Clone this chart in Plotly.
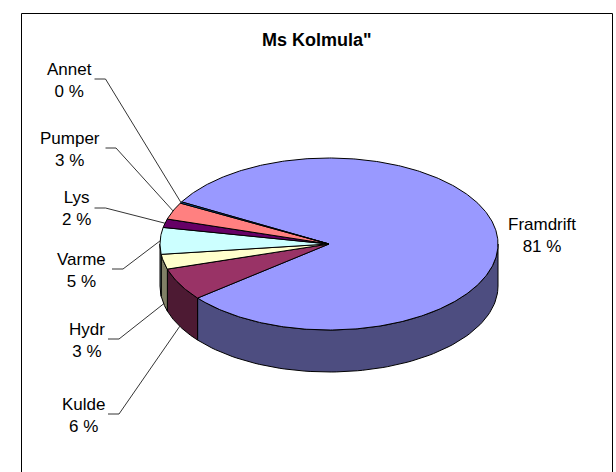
import numpy as np
import plotly.graph_objects as go

# ---- data ----
labels = ["Framdrift", "Kulde", "Hydr", "Varme", "Lys", "Pumper", "Annet"]
values = [81.0, 6.1, 2.8, 5.0, 1.6, 3.2, 0.25]
title_text = "Ms Kolmula\""

# ---- style / layout ----
top_colors = ["#9999FF", "#993366", "#FFFFCC", "#CCFFFF", "#660066", "#FF8080", "#0066CC"]
side_colors = ["#4D4D80", "#4D1A33", "#808066", "#668080", "#330033", "#804040", "#003366"]
CX, CY, RX, RY, DEPTH = 329.0, 244.0, 169.0, 86.0, 42.0
START = 150.7  # math angle (deg) where first slice begins, going clockwise
FONT = "Liberation Sans, Arial, sans-serif"

# label block centres and leader knees (x0, x1, y)
label_pos = {
    "Annet": (69, 80, (94.5, 105.5, 79)),
    "Pumper": (70, 149, (105.5, 116, 148)),
    "Lys": (76, 208.5, (94.5, 105.5, 208)),
    "Varme": (81, 270.5, (112, 123, 269)),
    "Hydr": (87, 340, (108, 119, 339)),
    "Kulde": (83, 415, (108, 119, 414)),
    "Framdrift": (542, 235, None),
}


def rim(theta, dz=0.0):
    t = np.radians(theta)
    return CX + RX * np.cos(t), CY - RY * np.sin(t) + dz


total = float(sum(values))
bounds = []
a = START
for v in values:
    span = v / total * 360.0
    bounds.append((a, a - span))
    a -= span

fig = go.Figure()

# side faces (front half: sin <= 0)
for i, (a0, a1) in enumerate(bounds):
    hi, lo = a0, a1
    for k in range(-2, 3):
        s_lo = max(lo, -180 + 360 * k)
        s_hi = min(hi, 0 + 360 * k)
        if s_hi - s_lo <= 1e-6:
            continue
        th = np.linspace(s_hi, s_lo, 80)
        xt, yt = rim(th)
        xb, yb = rim(th[::-1], DEPTH)
        xs = np.concatenate([xt, xb, xt[:1]])
        ys = np.concatenate([yt, yb, yt[:1]])
        fig.add_trace(go.Scatter(x=xs, y=ys, mode="lines", fill="toself",
                                 fillcolor=side_colors[i],
                                 line=dict(color="black", width=1),
                                 hoverinfo="skip", showlegend=False))

# top faces
for i, (a0, a1) in enumerate(bounds):
    n = max(4, int(abs(a0 - a1) * 1.5))
    th = np.linspace(a0, a1, n)
    xr, yr = rim(th)
    xs = np.concatenate([[CX], xr, [CX]])
    ys = np.concatenate([[CY], yr, [CY]])
    fig.add_trace(go.Scatter(x=xs, y=ys, mode="lines", fill="toself",
                             fillcolor=top_colors[i],
                             line=dict(color="black", width=1),
                             hoverinfo="skip", showlegend=False,
                             name=labels[i]))

# labels and leader lines
annotations = []
for i, lab in enumerate(labels):
    cx, cy, knee = label_pos[lab]
    pct = round(values[i] / total * 100)
    annotations.append(dict(x=cx, y=cy, xref="x", yref="y", showarrow=False,
                            text=f"{lab}<br>{pct} %", align="center",
                            xanchor="center", yanchor="middle",
                            font=dict(family=FONT, size=17, color="black")))
    if knee is not None:
        a0, a1 = bounds[i]
        mid = (a0 + a1) / 2.0
        dz = DEPTH if np.sin(np.radians(mid)) < 0 else 0.0
        ex, ey = rim(mid, dz)
        kx0, kx1, ky = knee
        fig.add_trace(go.Scatter(x=[kx0, kx1, ex], y=[ky, ky, ey], mode="lines",
                                 line=dict(color="black", width=0.8),
                                 hoverinfo="skip", showlegend=False))

annotations.append(dict(x=316.5, y=40, xref="x", yref="y", showarrow=False,
                        text=f"<b>{title_text}</b>", xanchor="center", yanchor="middle",
                        font=dict(family=FONT, size=18, color="black")))

fig.update_layout(
    width=616, height=472,
    margin=dict(l=0, r=0, t=0, b=0),
    paper_bgcolor="white", plot_bgcolor="white",
    xaxis=dict(range=[0, 616], visible=False, fixedrange=True),
    yaxis=dict(range=[472, 0], visible=False, fixedrange=True),
    annotations=annotations,
    shapes=[dict(type="rect", xref="x", yref="y", x0=21.5, y0=13.5, x1=612.5, y1=490,
                 line=dict(color="black", width=1), fillcolor="rgba(0,0,0,0)", layer="below")],
    showlegend=False,
)

fig.write_html("out.html", config={"displayModeBar": False},
               post_script="document.body.style.margin='0';document.body.style.overflow='hidden';")
